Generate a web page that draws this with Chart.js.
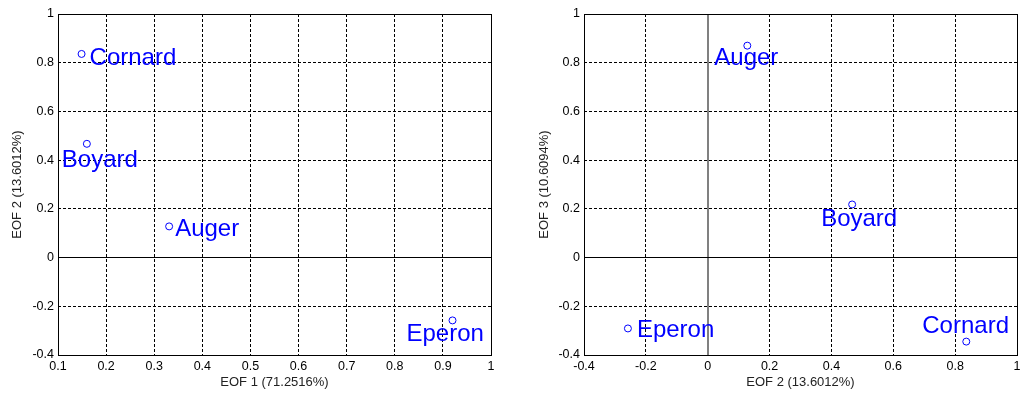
<!DOCTYPE html>
<html>
<head>
<meta charset="utf-8">
<title>EOF scatter</title>
<script src="https://cdn.jsdelivr.net/npm/chart.js@4.4.1/dist/chart.umd.min.js"></script>
<style>
  body { margin: 0; background: #fff; }
  .panel { position: absolute; top: 0; width: 514px; height: 394px; }
</style>
</head>
<body>
<div class="panel" style="left:0"><canvas id="eof12"></canvas></div>
<div class="panel" style="left:514px"><canvas id="eof23"></canvas></div>
<script>
// station loadings on the first three EOFs
const stations = ['Auger', 'Boyard', 'Cornard', 'Eperon'];
const eof1 = [0.331, 0.160, 0.149, 0.920];
const eof2 = [0.128, 0.467, 0.836, -0.258];
const eof3 = [0.870, 0.218, -0.345, -0.291];

const eof1Ticks = [0.1, 0.2, 0.3, 0.4, 0.5, 0.6, 0.7, 0.8, 0.9, 1];
const eof2Ticks = [-0.4, -0.2, 0, 0.2, 0.4, 0.6, 0.8, 1];
const eof3Ticks = [-0.4, -0.2, 0, 0.2, 0.4, 0.6, 0.8, 1];

// where each name sits relative to its marker (px)
const labelDx12 = [6, -25, 8, -46];
const labelDy12 = [10, 23, 11, 21];
const labelDx23 = [-33, -31, -44, 9];
const labelDy23 = [19, 22, -9, 9];

const BLUE = '#0000ff';
const tickFont = { family: '"Liberation Sans", Arial, sans-serif', size: 12.5 };
const titleFont = { family: '"Liberation Sans", Arial, sans-serif', size: 13 };
const fmt = v => String(+Number(v).toFixed(1));
const align = p => Math.round(p - 0.5) + 0.5;

// zero lines, frame and station names
const annotate = {
  id: 'annotate',
  beforeDatasetsDraw(chart, args, opts) {
    const { ctx, chartArea: a, scales: { x, y } } = chart;
    ctx.save();
    if (x.min < 0 && x.max > 0) {
      const px = Math.round(x.getPixelForValue(0));
      ctx.strokeStyle = '#808080';
      ctx.lineWidth = 2;
      ctx.beginPath();
      ctx.moveTo(px, a.top);
      ctx.lineTo(px, a.bottom);
      ctx.stroke();
    }
    if (y.min < 0 && y.max > 0) {
      const py = align(y.getPixelForValue(0));
      ctx.strokeStyle = '#000';
      ctx.lineWidth = 1;
      ctx.beginPath();
      ctx.moveTo(a.left, py);
      ctx.lineTo(a.right, py);
      ctx.stroke();
    }
    ctx.strokeStyle = '#000';
    ctx.lineWidth = 1;
    const l = align(a.left), t = align(a.top), r = align(a.right), b = align(a.bottom);
    ctx.strokeRect(l, t, r - l, b - t);
    ctx.restore();
  },
  afterDatasetsDraw(chart, args, opts) {
    const { ctx } = chart;
    const meta = chart.getDatasetMeta(0);
    ctx.save();
    ctx.fillStyle = BLUE;
    ctx.font = '24px "Comic Sans MS", "Liberation Sans", Arial, sans-serif';
    ctx.textAlign = 'left';
    ctx.textBaseline = 'alphabetic';
    meta.data.forEach((pt, i) => {
      ctx.fillText(stations[i], pt.x + opts.dx[i], pt.y + opts.dy[i]);
    });
    ctx.restore();
  }
};

function axis(ticks, title, titlePad, fixedSize, horizontal) {
  return {
    type: 'linear',
    min: ticks[0],
    max: ticks[ticks.length - 1],
    afterBuildTicks: s => { s.ticks = ticks.map(v => ({ value: v })); },
    afterFit: s => { if (horizontal) s.height = fixedSize; else s.width = fixedSize; },
    grid: {
      color: c => (c.tick && c.tick.value === 0 && !horizontal) ? 'rgba(0,0,0,0)' : '#000',
      lineWidth: 1,
      drawTicks: false
    },
    border: { display: false, dash: [3, 2] },
    ticks: { font: tickFont, color: '#000', padding: 4, maxRotation: 0, autoSkip: false, callback: fmt },
    title: { display: true, text: title, font: titleFont, color: '#222', padding: titlePad }
  };
}

function scatter(id, xs, ys, xTicks, yTicks, xTitle, yTitle, yAxisWidth, yTitlePad, padRight, dx, dy) {
  new Chart(document.getElementById(id), {
    type: 'scatter',
    data: {
      datasets: [{
        data: xs.map((v, i) => ({ x: v, y: ys[i] })),
        pointStyle: 'circle',
        pointRadius: 3.5,
        pointHoverRadius: 3.5,
        borderColor: BLUE,
        backgroundColor: 'rgba(0,0,0,0)',
        borderWidth: 1,
        clip: false
      }]
    },
    options: {
      responsive: true,
      maintainAspectRatio: false,
      animation: false,
      events: [],
      layout: { padding: { top: 14, right: padRight, left: 0, bottom: 0 } },
      scales: {
        x: axis(xTicks, xTitle, { top: 0, bottom: 4 }, 39, true),
        y: axis(yTicks, yTitle, { top: yTitlePad, bottom: 0 }, yAxisWidth, false)
      },
      plugins: {
        legend: { display: false },
        tooltip: { enabled: false },
        annotate: { dx, dy }
      }
    },
    plugins: [annotate]
  });
}

scatter('eof12', eof1, eof2, eof1Ticks, eof2Ticks,
  'EOF 1 (71.2516%)', 'EOF 2 (13.6012%)', 58, 10, 23, labelDx12, labelDy12);
scatter('eof23', eof2, eof3, eof2Ticks, eof3Ticks,
  'EOF 2 (13.6012%)', 'EOF 3 (10.6094%)', 70, 23, 11, labelDx23, labelDy23);
</script>
</body>
</html>
